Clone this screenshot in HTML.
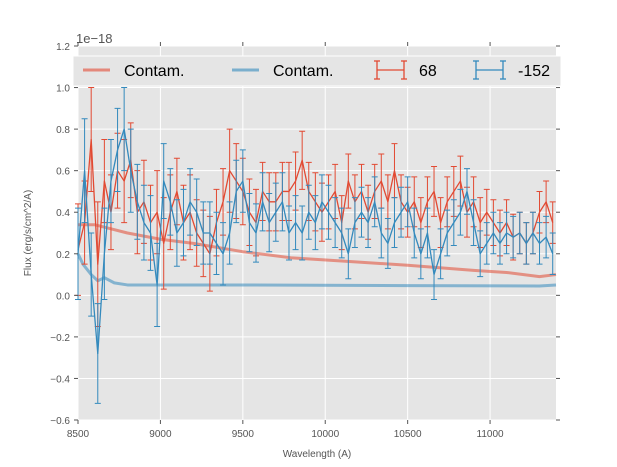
<!DOCTYPE html>
<html><head><meta charset="utf-8"><style>
body{margin:0;background:#fff;}
svg{display:block;font-family:"Liberation Sans",sans-serif;}
</style></head><body>
<svg id="chart" width="617" height="467">
<rect x="78" y="46" width="478" height="374" fill="#E5E5E5"/>
<g id="grid"></g>
<g id="contam"></g>
<g id="series"></g>
<g id="axes"></g>
<g id="legend">
<rect x="73" y="56" width="488" height="30" fill="#E5E5E5" stroke="#fff" stroke-width="1"/>
<line x1="83" y1="70" x2="110" y2="70" stroke="#E24A33" stroke-opacity="0.6" stroke-width="3"/>
<text x="124" y="76" font-size="16" fill="#000">Contam.</text>
<line x1="232" y1="70" x2="259" y2="70" stroke="#348ABD" stroke-opacity="0.6" stroke-width="3"/>
<text x="273" y="76" font-size="16" fill="#000">Contam.</text>
<g stroke="#E24A33" stroke-width="1.3"><line x1="377" y1="70" x2="404" y2="70"/><line x1="377" y1="61" x2="377" y2="79"/><line x1="404" y1="61" x2="404" y2="79"/><line x1="374" y1="61" x2="380" y2="61"/><line x1="374" y1="79" x2="380" y2="79"/><line x1="401" y1="61" x2="407" y2="61"/><line x1="401" y1="79" x2="407" y2="79"/></g>
<text x="419" y="76" font-size="16" fill="#000">68</text>
<g stroke="#348ABD" stroke-width="1.3"><line x1="476" y1="70" x2="503" y2="70"/><line x1="476" y1="61" x2="476" y2="79"/><line x1="503" y1="61" x2="503" y2="79"/><line x1="473" y1="61" x2="479" y2="61"/><line x1="473" y1="79" x2="479" y2="79"/><line x1="500" y1="61" x2="506" y2="61"/><line x1="500" y1="79" x2="506" y2="79"/></g>
<text x="518" y="76" font-size="16" fill="#000">-152</text>
</g>
<text x="76" y="43" font-size="13" fill="#555">1e−18</text>
<text x="317" y="457" font-size="10" fill="#555" text-anchor="middle">Wavelength (A)</text>
<text transform="translate(31,233) rotate(-90)" font-size="10" fill="#555" text-anchor="middle">Flux (erg/s/cm^2/A)</text>
</svg>
<script>
const xTicks=[8500,9000,9500,10000,10500,11000];
const yTicks=[-0.6,-0.4,-0.2,0.0,0.2,0.4,0.6,0.8,1.0,1.2];
const yTickLabels=["−0.6","−0.4","−0.2","0.0","0.2","0.4","0.6","0.8","1.0","1.2"];
const redFlux=[0.22,0.35,0.75,0.15,0.55,0.4,0.6,0.55,0.65,0.4,0.45,0.35,0.4,0.25,0.4,0.5,0.35,0.4,0.3,0.25,0.2,0.35,0.45,0.6,0.55,0.5,0.4,0.35,0.5,0.45,0.45,0.5,0.5,0.55,0.65,0.5,0.45,0.4,0.45,0.5,0.35,0.55,0.45,0.5,0.4,0.5,0.55,0.45,0.6,0.45,0.4,0.45,0.35,0.45,0.5,0.35,0.45,0.5,0.55,0.4,0.45,0.35,0.4,0.35,0.3,0.35,0.28,0.3,0.25,0.3,0.4,0.45,0.35];
const redErr=[0.22,0.2,0.25,0.3,0.2,0.18,0.18,0.2,0.18,0.2,0.2,0.18,0.2,0.22,0.18,0.16,0.18,0.18,0.16,0.16,0.18,0.16,0.16,0.2,0.18,0.16,0.16,0.16,0.14,0.14,0.14,0.14,0.14,0.14,0.14,0.14,0.14,0.14,0.13,0.13,0.13,0.13,0.13,0.13,0.13,0.13,0.13,0.13,0.13,0.13,0.12,0.12,0.12,0.12,0.12,0.12,0.12,0.12,0.12,0.12,0.12,0.12,0.11,0.11,0.11,0.11,0.11,0.1,0.1,0.1,0.1,0.1,0.1];
const blueFlux=[0.2,0.6,0.1,-0.28,0.2,0.55,0.7,0.8,0.6,0.45,0.35,0.3,0.05,0.55,0.45,0.3,0.35,0.45,0.4,0.3,0.3,0.25,0.2,0.3,0.5,0.55,0.35,0.3,0.45,0.35,0.4,0.45,0.3,0.35,0.3,0.4,0.35,0.45,0.4,0.35,0.3,0.2,0.35,0.4,0.35,0.45,0.3,0.25,0.35,0.4,0.45,0.3,0.2,0.3,0.1,0.2,0.3,0.35,0.4,0.5,0.35,0.2,0.25,0.3,0.25,0.3,0.28,0.3,0.25,0.3,0.25,0.28,0.2];
const blueErr=[0.22,0.25,0.2,0.24,0.22,0.2,0.2,0.2,0.2,0.18,0.18,0.18,0.2,0.18,0.16,0.16,0.16,0.16,0.16,0.15,0.15,0.15,0.15,0.15,0.15,0.15,0.14,0.14,0.14,0.14,0.14,0.14,0.13,0.13,0.13,0.13,0.13,0.13,0.13,0.12,0.12,0.12,0.12,0.12,0.12,0.12,0.12,0.12,0.12,0.12,0.12,0.12,0.12,0.12,0.12,0.12,0.11,0.11,0.11,0.11,0.11,0.11,0.1,0.1,0.1,0.1,0.1,0.1,0.1,0.1,0.1,0.1,0.1];
const contamWave=[8500,8600,8700,8800,9000,9200,9500,9800,10100,10500,10900,11100,11300,11400];
const redContam=[0.34,0.34,0.32,0.3,0.27,0.25,0.21,0.18,0.165,0.145,0.12,0.11,0.09,0.1];
const blueContamWave=[8500,8530,8580,8620,8660,8720,8800,9500,10500,11300,11400];
const blueContam=[0.2,0.15,0.1,0.07,0.085,0.06,0.05,0.05,0.047,0.045,0.05];
const waveStart=8500, waveStep=40;

const NS="http://www.w3.org/2000/svg";
const L=78,R=556,T=46,B=420;
const xs=v=>L+(v-8500)/(11400-8500)*(R-L);
const ys=v=>B-(v+0.6)/1.8*(B-T);
function mk(tag,attrs,parent){const e=document.createElementNS(NS,tag);for(const k in attrs)e.setAttribute(k,attrs[k]);document.getElementById(parent).appendChild(e);return e;}
xTicks.forEach((t,i)=>{
  const g=mk('line',{x1:xs(t),x2:xs(t),y1:T,y2:B,stroke:'#fff','stroke-width':1},'grid');
  
  
  const tk=mk('line',{x1:xs(t),x2:xs(t),y1:B,y2:B+4,stroke:'#555'},'axes');
  
  
  const tk2=mk('line',{x1:xs(t),x2:xs(t),y1:T,y2:T-4,stroke:'#555'},'axes');
  
  
  const tx=mk('text',{x:xs(t),y:B+17,'font-size':10,fill:'#555','text-anchor':'middle'},'axes');
  tx.textContent=t;
  
  
});
yTicks.forEach((t,i)=>{
  const g=mk('line',{x1:L,x2:R,y1:ys(t),y2:ys(t),stroke:'#fff','stroke-width':1},'grid');
  
  
  const tk=mk('line',{x1:L,x2:L-4,y1:ys(t),y2:ys(t),stroke:'#555'},'axes');
  
  
  const tk2=mk('line',{x1:R,x2:R+4,y1:ys(t),y2:ys(t),stroke:'#555'},'axes');
  
  
  const tx=mk('text',{x:L-8,y:ys(t)+4,'font-size':10,fill:'#555','text-anchor':'end'},'axes');
  tx.textContent=yTickLabels[i];
  
  
});
function poly(wv,vals,color,parent,name,w,op){
  const p=mk('polyline',{points:vals.map((v,i)=>xs(wv[i])+','+ys(v)).join(' '),fill:'none',stroke:color,'stroke-width':w,'stroke-opacity':op,'stroke-linejoin':'round'},parent);
  
  
}
poly(contamWave,redContam,'#E24A33','contam','red-contam-line',3,0.55);
poly(blueContamWave,blueContam,'#348ABD','contam','blue-contam-line',3,0.55);
function series(vals,errs,color,name){
  const wv=vals.map((v,i)=>waveStart+waveStep*i);
  vals.forEach((v,i)=>{
    const x=xs(wv[i]),y1=ys(v+errs[i]),y2=ys(v-errs[i]);
    const e=mk('path',{d:`M${x},${y1}V${y2}M${x-3},${y1}H${x+3}M${x-3},${y2}H${x+3}`,stroke:color,'stroke-width':1,fill:'none'},'series');
    
    
  });
  poly(wv,vals,color,'series',name+'-line',1.3,1);
}
series(redFlux,redErr,'#E24A33','series-68');
series(blueFlux,blueErr,'#348ABD','series-152');
</script>
</body></html>
